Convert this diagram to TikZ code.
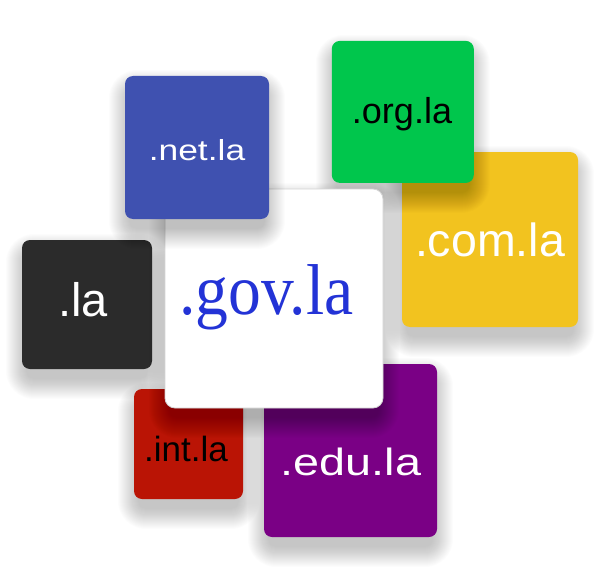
\documentclass[tikz,border=0pt]{standalone}
\usepackage{fontspec}
\setmainfont{Liberation Sans}
\newfontfamily\govfont{Liberation Serif}
\definecolor{netblue}{HTML}{3F51B0}
\definecolor{orggreen}{HTML}{00C64C}
\definecolor{comyellow}{HTML}{F2C31F}
\definecolor{ladark}{HTML}{2B2B2B}
\definecolor{intred}{HTML}{BA1405}
\definecolor{edupurple}{HTML}{7A0085}
\definecolor{govblue}{HTML}{2333D6}
\definecolor{govborder}{HTML}{D4D4D4}
\tikzset{
  tile/.style={rounded corners=8pt, inner sep=0pt, draw=none},
  lbl/.style={anchor=base, inner sep=0pt},
  shadowlayer/.style={fill=black, fill opacity=0.012, draw=none},
}
% soft shadow: centre x, centre y, width, height
\newcommand\tileshadow[4]{%
  \foreach \k in {0,...,20}{%
    \pgfmathsetmacro\rr{8+\k}%
    \fill[shadowlayer, rounded corners=\rr pt]
      ({#1-#3/2-\k+4},{#2-#4/2-\k+14}) rectangle ({#1+#3/2+\k-4},{#2+#4/2+\k+10});
  }%
}
\begin{document}
\begin{tikzpicture}[x=1pt,y=-1pt]
\useasboundingbox (0,0) rectangle (600,586);
% .com.la and .org.la
\tileshadow{490}{239.5}{176}{175}
\node[tile, fill=comyellow, minimum width=176pt, minimum height=175pt] (bcom) at (490,239.5) {};
\node[lbl, text=white, font=\fontsize{46.5}{50}\selectfont] (tcom) at (490,256) {.com.la};
\tileshadow{402.8}{111.9}{142}{142}
\node[tile, fill=orggreen, minimum width=142pt, minimum height=142pt] (borg) at (402.8,111.9) {};
\node[lbl, text=black, font=\fontsize{36}{40}\selectfont] (torg) at (402,124) {.org.la};
% .la
\tileshadow{87}{304.5}{130}{129}
\node[tile, fill=ladark, minimum width=130pt, minimum height=129pt] (bla) at (87,304.5) {};
\node[lbl, text=white, font=\fontsize{47}{50}\selectfont] (tla) at (83,316) {.la};
% .int.la and .edu.la
\tileshadow{188.5}{444}{109}{110}
\node[tile, fill=intred, minimum width=109pt, minimum height=110pt] (bint) at (188.5,444) {};
\node[lbl, text=black, font=\fontsize{35}{40}\selectfont] (tint) at (186,461.7) {.int.la};
\tileshadow{350.5}{450.5}{173}{173}
\node[tile, fill=edupurple, minimum width=173pt, minimum height=173pt] (bedu) at (350.5,450.5) {};
\node[lbl, text=white, font=\fontsize{38}{42}\selectfont] (tedu) at (351,475.5) {\scalebox{1.23}[1]{.edu.la}};
% .gov.la
\tileshadow{274}{298.5}{218}{219}
\node[tile, fill=white, draw=govborder, line width=0.8pt, rounded corners=10pt, minimum width=218pt, minimum height=219pt] (bgov) at (274,298.5) {};
\node[lbl, text=govblue, font=\govfont\fontsize{72}{76}\selectfont] (tgov) at (266.5,314.3) {\scalebox{0.91}[1]{.gov.la}};
% .net.la
\tileshadow{197}{147.5}{144}{143}
\node[tile, fill=netblue, minimum width=144pt, minimum height=143pt] (bnet) at (197,147.5) {};
\node[lbl, text=white, font=\fontsize{29}{33}\selectfont] (tnet) at (197,160.5) {\scalebox{1.22}[1]{.net.la}};
\end{tikzpicture}
\end{document}
